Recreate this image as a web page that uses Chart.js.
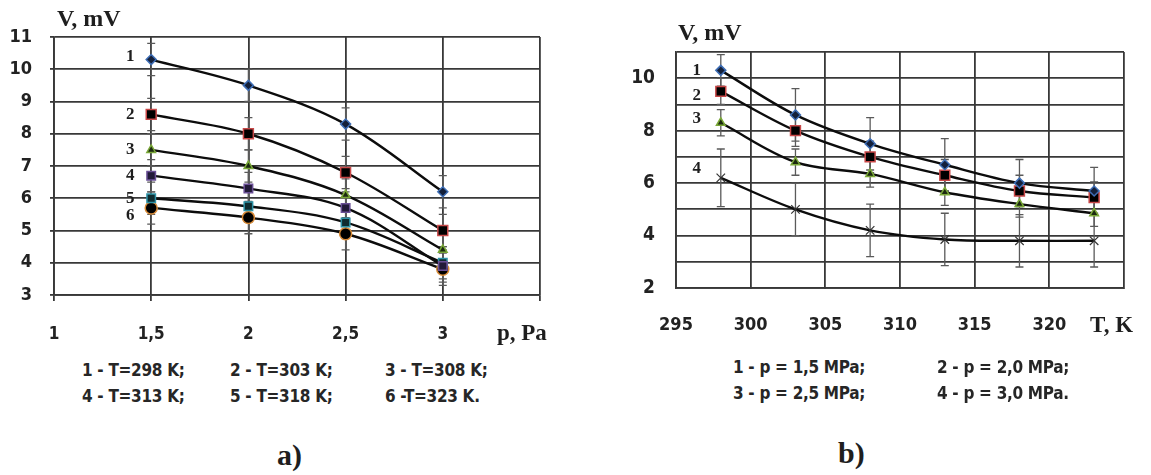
<!DOCTYPE html>
<html>
<head>
<meta charset="utf-8">
<script src="https://cdn.jsdelivr.net/npm/chart.js@4.4.0/dist/chart.umd.min.js"></script>
<style>
  html, body { margin:0; padding:0; background:#fff; width:1151px; height:475px; overflow:hidden; }
  #wrap { position:relative; width:1151px; height:475px; }
  canvas { position:absolute; top:0; }
  .t { position:absolute; white-space:pre; color:#1e1e1e; line-height:1; }
  .serif { font-family:"Liberation Serif","DejaVu Serif",serif; font-weight:bold; }
  .cond { font-family:"DejaVu Sans Condensed","Liberation Sans Narrow","DejaVu Sans",sans-serif; font-stretch:condensed; font-weight:bold; font-size:17px; color:#262626; letter-spacing:-0.3px; }
</style>
</head>
<body>
<div id="wrap">
  <canvas id="cA" width="575" height="345" style="left:0;width:575px;height:345px"></canvas>
  <canvas id="cB" width="576" height="345" style="left:575px;width:576px;height:345px"></canvas>

  <div class="t serif" style="left:57px;top:6px;font-size:24px;">V, mV</div>
  <div class="t serif" style="left:678px;top:20px;font-size:24px;">V, mV</div>
  <div class="t serif" style="left:497px;top:321px;font-size:23px;">p, Pa</div>
  <div class="t serif" style="left:1090px;top:313px;font-size:23px;">T, K</div>

  <div class="t cond" style="left:82px;top:362px;">1 - T=298 K;</div>
  <div class="t cond" style="left:230px;top:362px;">2 - T=303 K;</div>
  <div class="t cond" style="left:385px;top:362px;">3 - T=308 K;</div>
  <div class="t cond" style="left:82px;top:388px;">4 - T=313 K;</div>
  <div class="t cond" style="left:230px;top:388px;">5 - T=318 K;</div>
  <div class="t cond" style="left:385px;top:388px;">6 -T=323 K.</div>

  <div class="t cond" style="left:733px;top:359px;">1 - p = 1,5 MPa;</div>
  <div class="t cond" style="left:937px;top:359px;">2 - p = 2,0 MPa;</div>
  <div class="t cond" style="left:733px;top:385px;">3 - p = 2,5 MPa;</div>
  <div class="t cond" style="left:937px;top:385px;">4 - p = 3,0 MPa.</div>

  <div class="t serif" style="left:277px;top:440px;font-size:30px;">a)</div>
  <div class="t serif" style="left:838px;top:438px;font-size:30px;">b)</div>
</div>
<script>
// ---------- data: chart a) ----------
const pValues = [1.5, 2, 2.5, 3];
const aV1 = [10.3, 9.5, 8.3, 6.2];
const aV2 = [8.6, 8.0, 6.8, 5.0];
const aV3 = [7.5, 7.0, 6.1, 4.4];
const aV4 = [6.7, 6.3, 5.7, 3.9];
const aV5 = [6.0, 5.75, 5.25, 4.0];
const aV6 = [5.7, 5.4, 4.9, 3.8];
const aErr1 = [0.5, 0.5, 0.5, 0.5];
const aErr2 = [0.5, 0.5, 0.5, 0.5];
const aErr3 = [0.5, 0.5, 0.5, 0.5];
const aErr4 = [0.5, 0.5, 0.5, 0.5];
const aErr5 = [0.5, 0.5, 0.5, 0.5];
const aErr6 = [0.5, 0.5, 0.5, 0.5];
const aCurveLabels = ['1', '2', '3', '4', '5', '6'];
const aXTicks = [1, 1.5, 2, 2.5, 3];
const aYTicks = [3, 4, 5, 6, 7, 8, 9, 10, 11];

// ---------- data: chart b) ----------
const tValues = [298, 303, 308, 313, 318, 323];
const bV1 = [10.3, 8.6, 7.5, 6.7, 6.0, 5.7];
const bV2 = [9.5, 8.0, 7.0, 6.3, 5.7, 5.45];
const bV3 = [8.3, 6.8, 6.35, 5.65, 5.2, 4.85];
const bV4 = [6.2, 5.0, 4.2, 3.85, 3.8, 3.8];
const bErr1 = [0.6, 1.0, 1.0, 1.0, 0.9, 0.9];
const bErr2 = [0.5, 0.6, 0.6, 0.6, 0.6, 0.6];
const bErr3 = [0.5, 0.5, 0.5, 0.5, 0.5, 0.5];
const bErr4 = [1.1, 1.0, 1.0, 1.0, 1.0, 1.0];
const bCurveLabels = ['1', '2', '3', '4'];
const bXTicks = [295, 300, 305, 310, 315, 320];
const bYTicks = [2, 4, 6, 8, 10];

const TICK_FONT = { family: '"DejaVu Sans Condensed","Liberation Sans Narrow","DejaVu Sans",sans-serif', weight: 'bold', size: 17 };
const GRID = '#383838';

function pts(xs, ys) { return xs.map((x, i) => ({ x: x, y: ys[i] })); }

const errorBars = {
  id: 'errorBars',
  beforeDatasetsDraw(chart, args, opts) {
    const ctx = chart.ctx, xs = chart.scales.x, ys = chart.scales.y;
    ctx.save();
    ctx.strokeStyle = '#5a5a5a';
    ctx.lineWidth = 1.3;
    chart.data.datasets.forEach(ds => {
      if (!ds.err) return;
      ds.data.forEach((p, i) => {
        const e = ds.err[i];
        const px = xs.getPixelForValue(p.x);
        const y1 = ys.getPixelForValue(p.y + e), y2 = ys.getPixelForValue(p.y - e);
        ctx.beginPath();
        ctx.moveTo(px, y1); ctx.lineTo(px, y2);
        ctx.moveTo(px - 4, y1); ctx.lineTo(px + 4, y1);
        ctx.moveTo(px - 4, y2); ctx.lineTo(px + 4, y2);
        ctx.stroke();
      });
    });
    ctx.restore();
  }
};

const curveLabels = {
  id: 'curveLabels',
  afterDatasetsDraw(chart, args, opts) {
    const ctx = chart.ctx, xs = chart.scales.x, ys = chart.scales.y;
    ctx.save();
    ctx.font = 'bold 17px "Liberation Serif","DejaVu Serif",serif';
    ctx.fillStyle = '#1e1e1e';
    ctx.textAlign = 'center';
    ctx.textBaseline = 'middle';
    chart.data.datasets.forEach((ds, i) => {
      const p = ds.data[0];
      const off = opts.offsets[i];
      ctx.fillText(opts.labels[i], xs.getPixelForValue(p.x) + off[0], ys.getPixelForValue(p.y) + off[1]);
    });
    ctx.restore();
  }
};

function ds(data, err, style, radius, fill, border, bw) {
  return {
    data: data, err: err,
    borderColor: '#0c0c0c', borderWidth: 2.4, tension: 0.35,
    pointStyle: style, pointRadius: radius, pointHoverRadius: radius,
    pointBackgroundColor: fill, pointBorderColor: border, pointBorderWidth: bw === undefined ? 1.5 : bw,
    fill: false
  };
}

// ---------- chart a) ----------
new Chart(document.getElementById('cA'), {
  type: 'scatter',
  data: {
    datasets: [
      ds(pts(pValues, aV1), aErr1, 'rectRot', 5, '#14203a', '#3d6db5'),
      ds(pts(pValues, aV2), aErr2, 'rect', 7, '#000', '#c84848'),
      ds(pts(pValues, aV3), aErr3, 'triangle', 5, '#1c2a10', '#7aa838'),
      ds(pts(pValues, aV4), aErr4, 'rect', 6, '#221a38', '#6a4f96'),
      ds(pts(pValues, aV5), aErr5, 'rect', 6, '#0f2c30', '#2d92a6'),
      ds(pts(pValues, aV6), aErr6, 'circle', 6, '#000', '#d88a36')
    ].map(d => Object.assign(d, { showLine: true }))
  },
  options: {
    responsive: false, animation: false,
    layout: { padding: { left: 0, right: 35, top: 37, bottom: 0 } },
    plugins: {
      legend: { display: false }, tooltip: { enabled: false },
      curveLabels: { labels: aCurveLabels, offsets: [[-21, -3], [-21, 0], [-21, 0], [-21, 0], [-21, 0], [-21, 8]] }
    },
    scales: {
      x: {
        type: 'linear', min: 1, max: 3.5,
        afterFit(s) { s.height = 50; },
        afterBuildTicks(s) { s.ticks = aXTicks.concat([3.5]).map(v => ({ value: v })); },
        ticks: { font: Object.assign({}, TICK_FONT, { size: 17 }), color: '#222', padding: 23, maxRotation: 0,
          callback: v => aXTicks.includes(v) ? String(v).replace('.', ',') : '' },
        grid: { color: GRID, lineWidth: 1.8, tickLength: 6 },
        border: { color: GRID, width: 1.8 }
      },
      y: {
        type: 'linear', min: 3, max: 11,
        afterFit(s) { s.width = 54; },
        afterBuildTicks(s) { s.ticks = aYTicks.map(v => ({ value: v })); },
        ticks: { font: Object.assign({}, TICK_FONT, { size: 18 }), color: '#222', padding: 18 },
        grid: { color: GRID, lineWidth: 1.8, tickLength: 4 },
        border: { color: GRID, width: 1.8 }
      }
    }
  },
  plugins: [errorBars, curveLabels]
});

// ---------- chart b) ----------
new Chart(document.getElementById('cB'), {
  type: 'scatter',
  data: {
    datasets: [
      ds(pts(tValues, bV1), bErr1, 'rectRot', 5, '#14203a', '#3d6db5'),
      ds(pts(tValues, bV2), bErr2, 'rect', 7, '#000', '#c84848'),
      ds(pts(tValues, bV3), bErr3, 'triangle', 5, '#1c2a10', '#7aa838'),
      ds(pts(tValues, bV4), bErr4, 'crossRot', 6, '#333', '#333', 1.2)
    ].map(d => Object.assign(d, { showLine: true }))
  },
  options: {
    responsive: false, animation: false,
    layout: { padding: { left: 0, right: 23, top: 52, bottom: 0 } },
    plugins: {
      legend: { display: false }, tooltip: { enabled: false },
      curveLabels: { labels: bCurveLabels, offsets: [[-24, 0], [-24, 4], [-24, -4], [-24, -9]] }
    },
    scales: {
      x: {
        type: 'linear', min: 295, max: 325,
        afterFit(s) { s.height = 57; },
        afterBuildTicks(s) { s.ticks = bXTicks.concat([325]).map(v => ({ value: v })); },
        ticks: { font: Object.assign({}, TICK_FONT, { size: 18 }), color: '#222', padding: 27, maxRotation: 0,
          callback: v => bXTicks.includes(v) ? String(v) : '' },
        grid: { color: GRID, lineWidth: 1.8, tickLength: 0 },
        border: { color: GRID, width: 1.8 }
      },
      y: {
        type: 'linear', min: 2, max: 11,
        afterFit(s) { s.width = 101; },
        afterBuildTicks(s) { s.ticks = [2,3,4,5,6,7,8,9,10,11].map(v => ({ value: v })); },
        ticks: { font: Object.assign({}, TICK_FONT, { size: 19 }), color: '#222', padding: 21,
          callback: v => bYTicks.includes(v) ? String(v) : '' },
        grid: { color: GRID, lineWidth: 1.8, tickLength: 0 },
        border: { color: GRID, width: 1.8 }
      }
    }
  },
  plugins: [errorBars, curveLabels]
});
</script>
</body>
</html>
